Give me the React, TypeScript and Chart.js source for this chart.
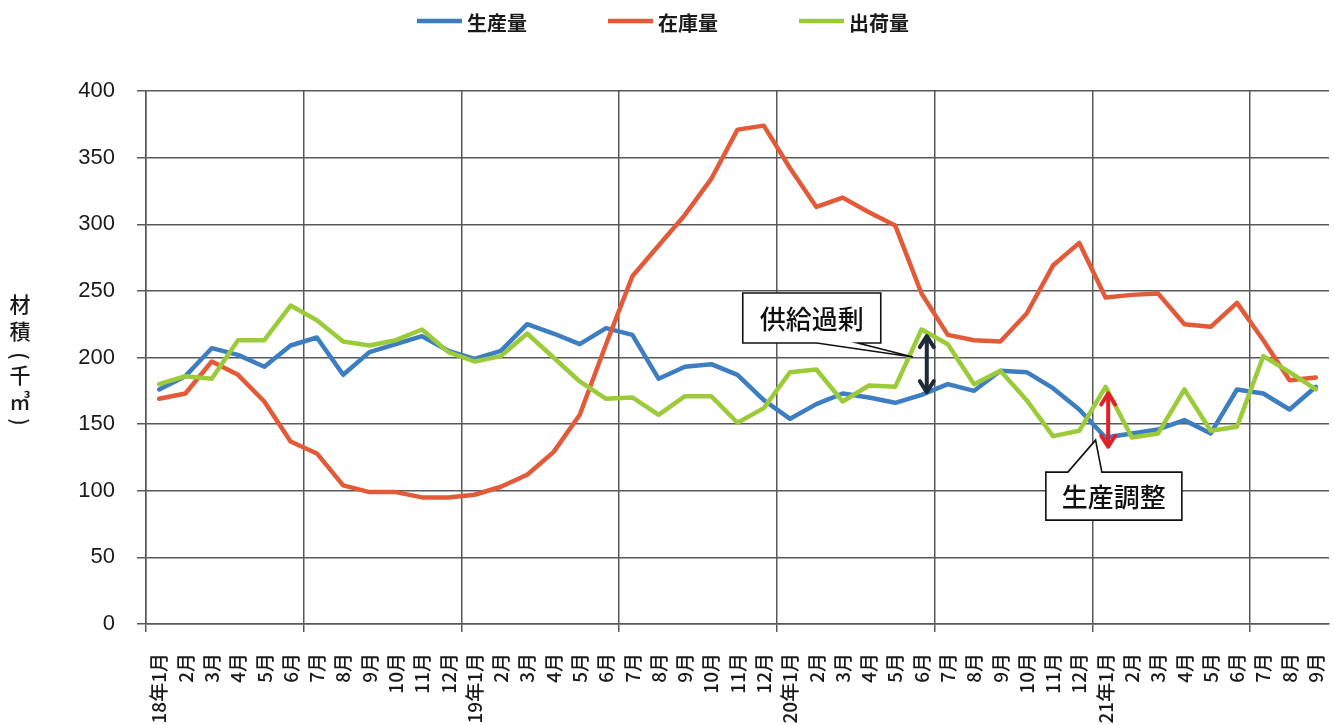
import React, { useEffect, useRef } from "react";
import { Chart, registerables } from "chart.js";

Chart.register(...registerables);

// ---- data ----
const categories = [
  "18年1月", "2月", "3月", "4月", "5月", "6月", "7月", "8月", "9月", "10月", "11月", "12月",
  "19年1月", "2月", "3月", "4月", "5月", "6月", "7月", "8月", "9月", "10月", "11月", "12月",
  "20年1月", "2月", "3月", "4月", "5月", "6月", "7月", "8月", "9月", "10月", "11月", "12月",
  "21年1月", "2月", "3月", "4月", "5月", "6月", "7月", "8月", "9月",
];

const seriesNames = ["生産量", "在庫量", "出荷量"];

const production = [
  176, 186, 207, 202, 193, 209, 215, 187, 204, 210, 216, 205,
  199, 205, 225, 218, 210, 222, 217, 184, 193, 195, 187, 168,
  154, 165, 173, 170, 166, 172, 180, 175, 190, 189, 177, 161,
  140, 143, 146, 153, 143, 176, 173, 161, 178,
];

const inventory = [
  169, 173, 197, 187, 167, 137, 128, 104, 99, 99, 95, 95,
  97, 103, 112, 129, 157, 210, 261, 284, 307, 334, 371, 374,
  342, 313, 320, 309, 299, 248, 217, 213, 212, 233, 269, 286,
  245, 247, 248, 225, 223, 241, 213, 183, 185,
];

const shipment = [
  180, 186, 184, 213, 213, 239, 228, 212, 209, 213, 221, 204,
  197, 201, 218, 200, 182, 169, 170, 157, 171, 171, 151, 162,
  189, 191, 167, 179, 178, 221, 210, 180, 190, 168, 141, 145,
  178, 140, 143, 176, 145, 148, 201, 189, 176,
];

const yMin = 0;
const yMax = 400;
const yStep = 50;

const yTitleChars = ["材", "積", "(", "千", "㎥", ")"];

const calloutTexts = ["供給過剰", "生産調整"];

// ---- styles / layout ----
const COLORS = ["#3D7EC3", "#E35A39", "#9CCB3A"];
const GRID = "#585858";
const TEXT = "#1a1a1a";
const JP = "'Noto Sans CJK JP', 'Noto Sans', sans-serif";

// y-title char centers relative to the chart-area middle
const yTitleOffsets = [-53.5, -26.5, -1.5, 17.5, 43.5, 64.5];

// annotation geometry expressed in data coordinates (category index, value)
const supplyArrow = { index: 29.2, top: 216, bottom: 174, color: "#1E2A35" };
const adjustArrow = { index: 36.1, top: 173, bottom: 133, color: "#E0202A" };
const supplyBox = { index: 22.2, value: 248.4, w: 138, h: 50, base1: 74, base2: 115, tipIndex: 28.67, tipValue: 200.4, side: "bottom" };
const adjustBox = { index: 33.73, value: 114, w: 136, h: 48, base1: 22, base2: 56, tipIndex: 35.62, tipValue: 138, side: "top" };

function drawDoubleArrow(ctx: CanvasRenderingContext2D, x: number, y1: number, y2: number, color: string) {
  ctx.save();
  ctx.strokeStyle = color;
  ctx.lineWidth = 4;
  ctx.lineCap = "round";
  ctx.lineJoin = "round";
  ctx.beginPath();
  ctx.moveTo(x, y1 + 1);
  ctx.lineTo(x, y2 - 1);
  ctx.stroke();
  const hw = 7;
  const hl = 11;
  ctx.beginPath();
  ctx.moveTo(x - hw, y1 + hl);
  ctx.lineTo(x, y1);
  ctx.lineTo(x + hw, y1 + hl);
  ctx.moveTo(x - hw, y2 - hl);
  ctx.lineTo(x, y2);
  ctx.lineTo(x + hw, y2 - hl);
  ctx.stroke();
  ctx.restore();
}

function drawCallout(ctx: CanvasRenderingContext2D, chart: any, box: any, text: string) {
  const xs = chart.scales.x;
  const ys = chart.scales.y;
  const left = xs.getPixelForValue(box.index);
  const top = ys.getPixelForValue(box.value);
  const right = left + box.w;
  const bottom = top + box.h;
  const tx = xs.getPixelForValue(box.tipIndex);
  const ty = ys.getPixelForValue(box.tipValue);
  const b1 = left + box.base1;
  const b2 = left + box.base2;
  ctx.save();
  ctx.beginPath();
  if (box.side === "top") {
    ctx.moveTo(left, top);
    ctx.lineTo(b1, top);
    ctx.lineTo(tx, ty);
    ctx.lineTo(b2, top);
    ctx.lineTo(right, top);
    ctx.lineTo(right, bottom);
    ctx.lineTo(left, bottom);
  } else {
    ctx.moveTo(left, top);
    ctx.lineTo(right, top);
    ctx.lineTo(right, bottom);
    ctx.lineTo(b2, bottom);
    ctx.lineTo(tx, ty);
    ctx.lineTo(b1, bottom);
    ctx.lineTo(left, bottom);
  }
  ctx.closePath();
  ctx.fillStyle = "#ffffff";
  ctx.fill();
  ctx.strokeStyle = "#111";
  ctx.lineWidth = 1.6;
  ctx.lineJoin = "miter";
  ctx.stroke();
  ctx.fillStyle = "#111";
  ctx.font = `500 26px ${JP}`;
  ctx.textAlign = "center";
  ctx.textBaseline = "middle";
  ctx.fillText(text, (left + right) / 2, (top + bottom) / 2 + 1);
  ctx.restore();
}

const decorPlugin = {
  id: "decor",
  afterDatasetsDraw(chart: any) {
    const ctx: CanvasRenderingContext2D = chart.ctx;
    const xs = chart.scales.x;
    const ys = chart.scales.y;
    drawDoubleArrow(ctx, xs.getPixelForValue(supplyArrow.index), ys.getPixelForValue(supplyArrow.top), ys.getPixelForValue(supplyArrow.bottom), supplyArrow.color);
    drawDoubleArrow(ctx, xs.getPixelForValue(adjustArrow.index), ys.getPixelForValue(adjustArrow.top), ys.getPixelForValue(adjustArrow.bottom), adjustArrow.color);
    drawCallout(ctx, chart, supplyBox, calloutTexts[0]);
    drawCallout(ctx, chart, adjustBox, calloutTexts[1]);
  },
  afterDraw(chart: any) {
    const ctx: CanvasRenderingContext2D = chart.ctx;
    const area = chart.chartArea;
    // legend
    ctx.save();
    ctx.font = `bold 20px ${JP}`;
    const lineLen = 45;
    const gap = 5;
    const itemGap = 81;
    const widths = seriesNames.map((n) => lineLen + gap + ctx.measureText(n).width);
    const total = widths.reduce((a, b) => a + b, 0) + itemGap * (seriesNames.length - 1);
    let x = (chart.width - total) / 2 - 4;
    const ly = 21;
    seriesNames.forEach((name, i) => {
      ctx.strokeStyle = COLORS[i];
      ctx.lineWidth = 4.5;
      ctx.lineCap = "butt";
      ctx.beginPath();
      ctx.moveTo(x, ly);
      ctx.lineTo(x + lineLen, ly);
      ctx.stroke();
      ctx.fillStyle = TEXT;
      ctx.textAlign = "left";
      ctx.textBaseline = "middle";
      ctx.fillText(name, x + lineLen + gap, ly + 2);
      x += widths[i] + itemGap;
    });
    ctx.restore();

    // vertical y-axis title
    ctx.save();
    ctx.font = `500 21px ${JP}`;
    ctx.fillStyle = TEXT;
    ctx.textAlign = "center";
    ctx.textBaseline = "middle";
    const mid = (area.top + area.bottom) / 2;
    const tx = 20;
    yTitleChars.forEach((ch, i) => {
      const cy = mid + yTitleOffsets[i];
      if (ch === "(" || ch === ")") {
        ctx.save();
        ctx.translate(tx, cy);
        ctx.rotate(Math.PI / 2);
        ctx.fillText(ch, 0, 0);
        ctx.restore();
      } else {
        ctx.fillText(ch, tx, cy);
      }
    });
    ctx.restore();
  },
};

export default function App() {
  const ref = useRef<HTMLCanvasElement>(null);
  useEffect(() => {
    document.body.style.margin = "0";
    const canvas = ref.current!;
    const mk = (label: string, data: number[], color: string, order: number) => ({
      label,
      data,
      borderColor: color,
      backgroundColor: color,
      borderWidth: 4.5,
      pointRadius: 0,
      tension: 0,
      fill: false,
      order,
      borderJoinStyle: "round" as const,
      borderCapStyle: "round" as const,
    });
    const chart = new Chart(canvas, {
      type: "line",
      data: {
        labels: categories,
        datasets: [
          mk(seriesNames[0], production, COLORS[0], 3),
          mk(seriesNames[1], inventory, COLORS[1], 2),
          mk(seriesNames[2], shipment, COLORS[2], 1),
        ],
      },
      options: {
        responsive: false,
        animation: false,
        layout: { padding: { top: 91, right: 5, left: 0, bottom: 0 } },
        plugins: {
          legend: { display: false },
          tooltip: { enabled: false },
        },
        scales: {
          x: {
            type: "category",
            offset: true,
            grid: {
              offset: true,
              color: (c: any) => (c.index % 6 === 0 ? GRID : "rgba(0,0,0,0)"),
              lineWidth: 1.5,
              tickLength: 8,
              drawTicks: true,
            },
            border: { display: true, color: GRID, width: 1.5 },
            ticks: {
              autoSkip: false,
              maxRotation: 90,
              minRotation: 90,
              padding: 21,
              color: TEXT,
              font: { family: JP, size: 19, weight: "500" },
            },
            afterFit: (s: any) => {
              s.height = 101;
              s.paddingLeft = 0;
              s.paddingRight = 0;
            },
          },
          y: {
            min: yMin,
            max: yMax,
            ticks: {
              stepSize: yStep,
              padding: 22,
              color: TEXT,
              font: { family: "'Liberation Sans', Arial, sans-serif", size: 22 },
            },
            grid: { color: GRID, lineWidth: 1.5, tickLength: 9 },
            border: { display: true, color: GRID, width: 1.5 },
            afterFit: (s: any) => {
              s.width = 146;
              s.paddingTop = 0;
              s.paddingBottom = 0;
            },
          },
        },
      },
      plugins: [decorPlugin],
    });
    return () => chart.destroy();
  }, []);
  return <canvas ref={ref} width={1334} height={725} style={{ display: "block" }} />;
}
